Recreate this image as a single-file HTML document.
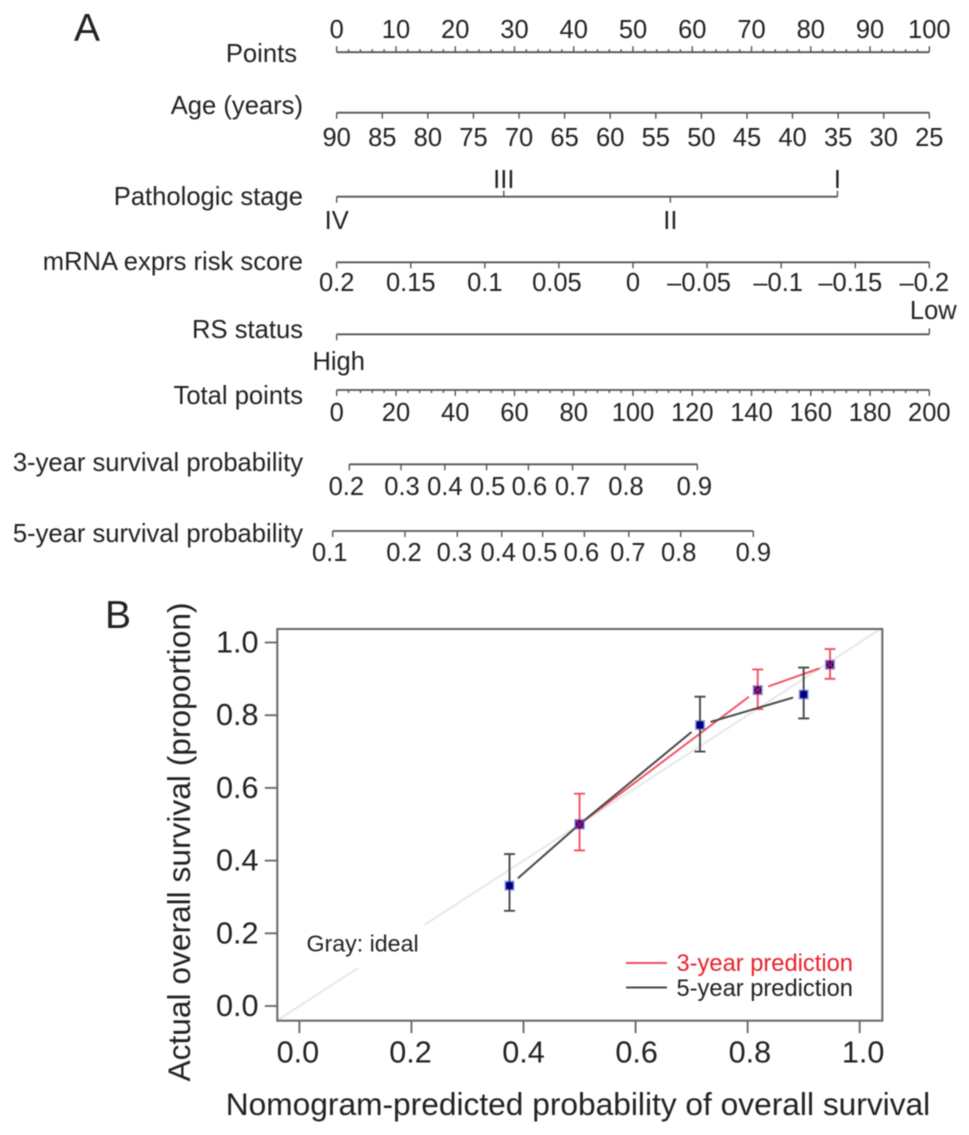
<!DOCTYPE html>
<html lang="en">
<head>
<meta charset="utf-8">
<title>Nomogram and calibration curve</title>
<style>
html,body{margin:0;padding:0;background:#fff;}
svg{display:block;filter:blur(0.5px);}
text{font-family:"Liberation Sans",Arial,sans-serif;fill:#222;}
.nl{font-size:25.5px;text-anchor:middle;dominant-baseline:central;}
.nt{font-size:25.6px;text-anchor:end;dominant-baseline:central;}
.pl{font-size:31.7px;dominant-baseline:central;}
.tl{font-size:30.6px;dominant-baseline:central;}
</style>
</head>
<body>
<svg id="figure" xmlns="http://www.w3.org/2000/svg" width="969" height="1135" viewBox="0 0 969 1135">
  <rect width="969" height="1135" fill="#fff"/>
  <text x="74" y="41" font-size="39">A</text>
  <text x="105" y="628" font-size="39">B</text>
  <text class="nt" x="297" y="54">Points</text>
  <text class="nt" x="303" y="106">Age (years)</text>
  <text class="nt" x="303" y="197">Pathologic stage</text>
  <text class="nt" x="303" y="262">mRNA exprs risk score</text>
  <text class="nt" x="303" y="330">RS status</text>
  <text class="nt" x="303" y="396">Total points</text>
  <text class="nt" x="303" y="463">3-year survival probability</text>
  <text class="nt" x="303" y="534">5-year survival probability</text>
  <g id="nomogram"></g>

  <g id="calibration"></g>
  <text class="pl" text-anchor="middle" transform="translate(179 842) rotate(-90)">Actual overall survival (proportion)</text>
  <text class="pl" text-anchor="middle" x="578" y="1104">Nomogram-predicted probability of overall survival</text>
</svg>
<script>
// Panel A: nomogram scales
const pointsMajor = [0,10,20,30,40,50,60,70,80,90,100];
const pointsMinor = [2,4,6,8,12,14,16,18,22,24,26,28,32,34,36,38,42,44,46,48,52,54,56,58,62,64,66,68,72,74,76,78,82,84,86,88,92,94,96,98];
const ageValues = [90,85,80,75,70,65,60,55,50,45,40,35,30,25];
const stageLabels = ["IV","III","II","I"];
const stagePoints = [0,28.2,56.3,84.5];
const riskLabels = ["0.2","0.15","0.1","0.05","0","\u20130.05","\u20130.1","\u20130.15","\u20130.2"];
const riskValues = [0.2,0.15,0.1,0.05,0,-0.05,-0.1,-0.15,-0.2];
const statusLabels = ["High","Low"];
const statusPoints = [0,100];
const totalMajor = [0,20,40,60,80,100,120,140,160,180,200];
const totalMinor = [4,8,12,16,24,28,32,36,44,48,52,56,64,68,72,76,84,88,92,96,104,108,112,116,124,128,132,136,144,148,152,156,164,168,172,176,184,188,192,196];
const surv3Labels = ["0.2","0.3","0.4","0.5","0.6","0.7","0.8","0.9"];
const surv3TotalPoints = [4.25,21.7,36.5,50.6,64.7,79.6,97.3,121.7];
const surv5Labels = ["0.1","0.2","0.3","0.4","0.5","0.6","0.7","0.8","0.9"];
const surv5TotalPoints = [-1.35,23.05,40.7,55.7,69.5,83.6,98.6,116.1,140.6];

// Panel B: calibration curves
const xTickValues = [0,0.2,0.4,0.6,0.8,1.0];
const yTickValues = [0,0.2,0.4,0.6,0.8,1.0];
const pred3 = [0.5,0.818,0.947];
const obs3 = [0.5,0.869,0.939];
const low3 = [0.428,0.817,0.9];
const high3 = [0.584,0.926,0.982];
const pred5 = [0.375,0.5,0.715,0.9];
const obs5 = [0.331,0.5,0.773,0.857];
const low5 = [0.262,0.5,0.7,0.791];
const high5 = [0.418,0.5,0.851,0.931];

const NS = "http://www.w3.org/2000/svg";
const nomo = document.getElementById("nomogram");
const calib = document.getElementById("calibration");
const AXIS = "#555";

function make(tag, attrs, parent) {
  const el = document.createElementNS(NS, tag);
  for (const k in attrs) el.setAttribute(k, attrs[k]);
  parent.appendChild(el);
  return el;
}

// Axis functions for panel A
const nomoLeft = 336.7, nomoRight = 929.3;
function xPoints(p) { return nomoLeft + (nomoRight - nomoLeft) * p / 100; }
function xTotal(t) { return nomoLeft + (nomoRight - nomoLeft) * t / 200; }
function xAge(a) { return nomoLeft + (nomoRight - nomoLeft) * (90 - a) / 65; }
function xRisk(r) { return nomoLeft + (nomoRight - nomoLeft) * (0.2 - r) / 0.4; }

function nomoLine(name, y, x1, x2) {
  const l = make("line", {x1: x1, x2: x2, y1: y, y2: y, stroke: AXIS, "stroke-width": 1.8}, nomo);
  
  
}
function nomoTick(name, x, y, len) {
  const t = make("line", {x1: x, x2: x, y1: y, y2: y + len, stroke: AXIS, "stroke-width": 1.4}, nomo);
  
  
}
function nomoLabel(name, str, x, y) {
  const t = make("text", {x: x, y: y, class: "nl"}, nomo);
  t.textContent = str;
  
  
}

// Points
nomoLine("points", 52.2, xPoints(0), xPoints(100));
pointsMajor.forEach(v => {
  nomoTick("points", xPoints(v), 52.2, -6);
  nomoLabel("points", String(v), xPoints(v), 30);
});
pointsMinor.forEach(v => nomoTick("points-minor", xPoints(v), 52.2, -3));

// Age
nomoLine("age", 112.7, xAge(90), xAge(25));
ageValues.forEach(v => {
  nomoTick("age", xAge(v), 112.7, 6);
  nomoLabel("age", String(v), xAge(v), 138);
});

// Pathologic stage
nomoLine("stage", 196.7, xPoints(stagePoints[0]), xPoints(stagePoints[3]));
stagePoints.forEach((p, i) => {
  const up = i % 2 === 1 || i === 3;
  nomoTick("stage", xPoints(p), 196.7, up ? -6 : 6);
  nomoLabel("stage", stageLabels[i], xPoints(p), up ? 180 : 221);
});

// mRNA risk score
const riskNudge = [0, 0, 0, -2, 0, -8, -3, -5, -5];
nomoLine("risk", 262.3, xRisk(0.2), xRisk(-0.2));
riskValues.forEach((v, i) => {
  nomoTick("risk", xRisk(v), 262.3, 6);
  nomoLabel("risk", riskLabels[i], xRisk(v) + riskNudge[i], 283);
});

// RS status
nomoLine("rs-status", 334.3, xPoints(statusPoints[0]), xPoints(statusPoints[1]));
statusPoints.forEach((p, i) => {
  nomoTick("rs-status", xPoints(p), 334.3, i === 0 ? 6 : -6);
  nomoLabel("rs-status", statusLabels[i], xPoints(p) + (i === 0 ? 2 : 4), i === 0 ? 362 : 311);
});

// Total points
nomoLine("total-points", 390, xTotal(0), xTotal(200));
totalMajor.forEach(v => {
  nomoTick("total-points", xTotal(v), 390, 6);
  nomoLabel("total-points", String(v), xTotal(v), 413);
});
totalMinor.forEach(v => nomoTick("total-points-minor", xTotal(v), 390, 3));

// 3-year probability
const surv3Nudge = [-3, 1, 0, 1, 1, 0, 1, -3];
nomoLine("three-year", 464.3, xTotal(surv3TotalPoints[0]), xTotal(surv3TotalPoints[7]));
surv3TotalPoints.forEach((t, i) => {
  nomoTick("three-year", xTotal(t), 464.3, 6);
  nomoLabel("three-year", surv3Labels[i], xTotal(t) + surv3Nudge[i], 487);
});

// 5-year probability
const surv5Nudge = [-3, -1, -3, -3.5, -3, -3, -1, -2, 0];
nomoLine("five-year", 531, xTotal(surv5TotalPoints[0]), xTotal(surv5TotalPoints[8]));
surv5TotalPoints.forEach((t, i) => {
  nomoTick("five-year", xTotal(t), 531, 6);
  nomoLabel("five-year", surv5Labels[i], xTotal(t) + surv5Nudge[i], 553);
});

// Axis functions for panel B
const frame = {l: 277.3, r: 882.3, t: 629, b: 1020.7};
function sx(v) { return 299.4 + 560.3 * v; }
function sy(v) { return 1006 - 363.5 * v; }

const ideal = make("line", {x1: sx(-0.04), y1: sy(-0.04), x2: sx(1.04), y2: sy(1.04), stroke: "#e8e8e8", "stroke-width": 2}, calib);



const labelMask = make("rect", {x: 303, y: 925, width: 122, height: 43, fill: "#fff"}, calib);



const box = make("rect", {x: frame.l, y: frame.t, width: frame.r - frame.l, height: frame.b - frame.t, fill: "none", stroke: "#666", "stroke-width": 2}, calib);



const xLabelNudge = [-1.5, -1, 0, 1, 2.3, 3.5];
xTickValues.forEach((v, i) => {
  const t = make("line", {x1: sx(v), x2: sx(v), y1: frame.b, y2: frame.b + 12.5, stroke: "#666", "stroke-width": 1.8}, calib);
  
  
  const l = make("text", {x: sx(v) + xLabelNudge[i], y: 1052.5, class: "tl", "text-anchor": "middle"}, calib);
  l.textContent = v.toFixed(1);
  
  
});
yTickValues.forEach(v => {
  const t = make("line", {x1: frame.l - 12.5, x2: frame.l, y1: sy(v), y2: sy(v), stroke: "#666", "stroke-width": 1.8}, calib);
  
  
  const l = make("text", {x: 258.5, y: sy(v), class: "tl", "text-anchor": "end"}, calib);
  l.textContent = v.toFixed(1);
  
  
});

function sharesPoint(px, py, ox, oy) {
  return ox.some((x, i) => Math.abs(x - px) < 1e-6 && Math.abs(oy[i] - py) < 1e-6);
}
function drawCurve(name, xs, ys, ox, oy, color, width) {
  const gap = 11;
  for (let i = 0; i < xs.length - 1; i++) {
    const x1 = sx(xs[i]), y1 = sy(ys[i]), x2 = sx(xs[i + 1]), y2 = sy(ys[i + 1]);
    const d = Math.hypot(x2 - x1, y2 - y1);
    const g1 = sharesPoint(xs[i], ys[i], ox, oy) ? 0 : gap;
    const g2 = sharesPoint(xs[i + 1], ys[i + 1], ox, oy) ? 0 : gap;
    const seg = make("line", {
      x1: x1 + (x2 - x1) * g1 / d, y1: y1 + (y2 - y1) * g1 / d,
      x2: x2 - (x2 - x1) * g2 / d, y2: y2 - (y2 - y1) * g2 / d,
      stroke: color, "stroke-width": width
    }, calib);
    
    
  }
}
function drawErrors(name, xs, lows, highs, color) {
  xs.forEach((v, i) => {
    if (highs[i] === lows[i]) return;
    const x = sx(v);
    const g = make("path", {
      d: "M" + x + " " + sy(lows[i]) + "V" + sy(highs[i]) +
         "M" + (x - 5.5) + " " + sy(lows[i]) + "H" + (x + 5.5) +
         "M" + (x - 5.5) + " " + sy(highs[i]) + "H" + (x + 5.5),
      fill: "none", stroke: color, "stroke-width": 1.9
    }, calib);
    
    
  });
}
function drawSquares(name, xs, ys) {
  xs.forEach((v, i) => {
    const x = sx(v), y = sy(ys[i]);
    const halo = make("rect", {x: x - 5, y: y - 5, width: 10, height: 10, fill: "#3b55d0", opacity: 0.55}, calib);
    
    
    const m = make("rect", {x: x - 3.6, y: y - 3.6, width: 7.2, height: 7.2, fill: "#00007c"}, calib);
    
    
  });
}
function drawCrosses(name, xs, ys) {
  xs.forEach((v, i) => {
    const x = sx(v), y = sy(ys[i]);
    const c = make("path", {
      d: "M" + (x - 4) + " " + (y - 4) + "L" + (x + 4) + " " + (y + 4) + "M" + (x - 4) + " " + (y + 4) + "L" + (x + 4) + " " + (y - 4),
      stroke: "#e01a50", "stroke-width": 2, fill: "none", opacity: 0.7
    }, calib);
    
    
  });
}

drawErrors("three-year", pred3, low3, high3, "#f2505f");
drawCurve("three-year", pred3, obs3, pred5, obs5, "#f2505f", 1.9);
drawErrors("five-year", pred5, low5, high5, "#484848");
drawCurve("five-year", pred5, obs5, pred3, obs3, "#484848", 2);
drawSquares("five-year", pred5, obs5);
drawSquares("three-year", pred3, obs3);
drawCrosses("three-year", pred3, obs3);

const ig = make("text", {x: 306.5, y: 943.5, "font-size": 23.2, "dominant-baseline": "central"}, calib);
ig.textContent = "Gray: ideal";



const l3 = make("line", {x1: 626, x2: 667, y1: 963, y2: 963, stroke: "#f2505f", "stroke-width": 1.9}, calib);


const t3 = make("text", {x: 676.5, y: 964, "font-size": 23.7, "dominant-baseline": "central"}, calib);
t3.textContent = "3-year prediction";
t3.style.fill = "#e8202e";


const l5 = make("line", {x1: 626, x2: 667, y1: 987.5, y2: 987.5, stroke: "#484848", "stroke-width": 2}, calib);


const t5 = make("text", {x: 676.5, y: 989, "font-size": 23.7, "dominant-baseline": "central"}, calib);
t5.textContent = "5-year prediction";


</script>
</body>
</html>
